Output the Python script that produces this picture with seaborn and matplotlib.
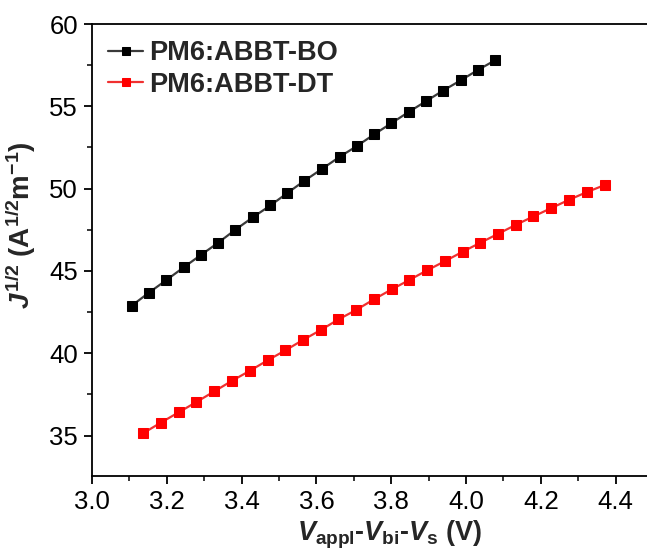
import numpy as np
import pandas as pd
import matplotlib
matplotlib.use("Agg")
import matplotlib.pyplot as plt
import seaborn as sns
from matplotlib.ticker import MultipleLocator

# Data
bo_x = [3.106, 3.152, 3.199, 3.245, 3.291, 3.337, 3.383, 3.430, 3.477, 3.522, 3.568,
        3.615, 3.662, 3.709, 3.754, 3.800, 3.847, 3.893, 3.939, 3.986, 4.032, 4.078]
bo_y = [42.89, 43.68, 44.45, 45.22, 45.97, 46.71, 47.50, 48.26, 48.98, 49.73, 50.48,
        51.20, 51.93, 52.60, 53.29, 53.97, 54.66, 55.31, 55.96, 56.58, 57.21, 57.80]
dt_x = [3.137, 3.184, 3.232, 3.279, 3.327, 3.375, 3.422, 3.470, 3.517, 3.564, 3.612,
        3.659, 3.706, 3.754, 3.801, 3.848, 3.896, 3.944, 3.991, 4.038, 4.086, 4.133,
        4.180, 4.228, 4.275, 4.323, 4.372]
dt_y = [35.15, 35.79, 36.42, 37.04, 37.69, 38.34, 38.94, 39.58, 40.18, 40.81, 41.42,
        42.06, 42.63, 43.28, 43.88, 44.45, 45.04, 45.60, 46.17, 46.71, 47.26, 47.80,
        48.31, 48.82, 49.32, 49.79, 50.23]
labels = ["PM6:ABBT-BO", "PM6:ABBT-DT"]

sns.set_style("ticks")
plt.rcParams["font.family"] = ["Liberation Sans", "DejaVu Sans"]
plt.rcParams["mathtext.fontset"] = "custom"
plt.rcParams["mathtext.rm"] = "Liberation Sans:bold"
plt.rcParams["mathtext.it"] = "Liberation Sans:italic:bold"
plt.rcParams["mathtext.bf"] = "Liberation Sans:bold"

fig = plt.figure(figsize=(6.47, 5.56), dpi=100)
W, H = 647, 556
ax = fig.add_axes([92 / W, 80 / H, (653 - 92) / W, (476 - 24) / H])

df_bo = pd.DataFrame({"x": bo_x, "y": bo_y})
df_dt = pd.DataFrame({"x": dt_x, "y": dt_y})

sns.lineplot(data=df_bo, x="x", y="y", ax=ax, color="#3a3a3a", lw=1.6,
             marker="s", markersize=7.5, markerfacecolor="black", markeredgecolor="black",
             label=labels[0])
sns.lineplot(data=df_dt, x="x", y="y", ax=ax, color="#f03030", lw=1.6,
             marker="s", markersize=7.5, markerfacecolor="#ff0000", markeredgecolor="#ff0000",
             label=labels[1])

ax.set_xlim(3.0, 4.5)
ax.set_ylim(32.55, 60)
ax.xaxis.set_major_locator(MultipleLocator(0.2))
ax.xaxis.set_minor_locator(MultipleLocator(0.1))
ax.yaxis.set_major_locator(MultipleLocator(5))
ax.yaxis.set_minor_locator(MultipleLocator(2.5))
ax.xaxis.set_major_formatter(matplotlib.ticker.FormatStrFormatter("%.1f"))

for s in ax.spines.values():
    s.set_linewidth(1.3)
    s.set_color("black")
ax.spines["right"].set_visible(False)

ax.tick_params(axis="both", which="major", direction="out", length=6, width=1.3,
               labelsize=18.5, colors="black", pad=4)
ax.tick_params(axis="both", which="minor", direction="out", length=3.5, width=1.3)
ax.tick_params(top=False, right=False)

ax.set_xlabel(r"$V_{\mathrm{appl}}$-$V_{\mathrm{bi}}$-$V_{\mathrm{s}}$ (V)",
              fontsize=19.5, fontweight="bold")
ax.set_ylabel(r"$J^{1/2}$ (A$^{1/2}$m$^{-1}$)", fontsize=20, fontweight="bold")
ax.xaxis.set_label_coords((390 - 92) / (653 - 92), -0.095)
ax.yaxis.set_label_coords((38 - 92) / (653 - 92), 0.555)

leg = ax.legend(loc="upper left", frameon=False, handlelength=1.3,
                handletextpad=0.2, labelspacing=0.2, borderaxespad=0.2,
                prop={"weight": "bold", "size": 19.5})
for h in leg.legend_handles:
    h.set_markersize(6)

fig.savefig("out.png", dpi=100)
